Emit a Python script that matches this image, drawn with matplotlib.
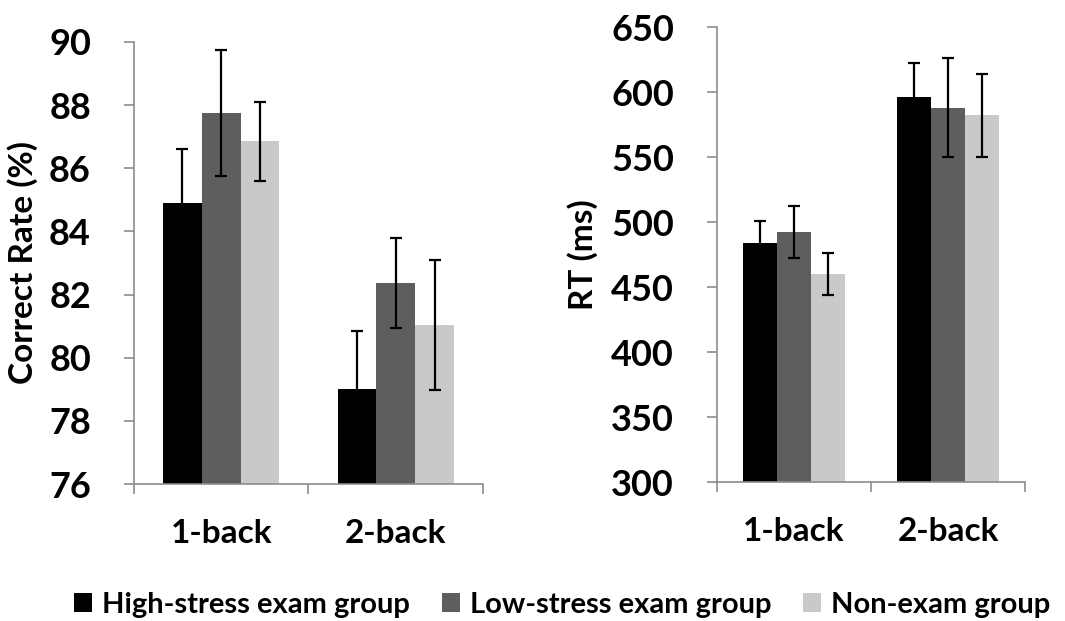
import numpy as np
import matplotlib.pyplot as plt
from matplotlib.ticker import FixedLocator

plt.rcParams['font.family'] = ['Lato', 'DejaVu Sans']
plt.rcParams['font.weight'] = 'bold'

tasks = ["1-back", "2-back"]
groups = ["High-stress exam group", "Low-stress exam group", "Non-exam group"]
colors = ["#000000", "#5e5e5e", "#c9c9c9"]

# correct rate (%)
acc_high = [84.9, 79.0]
acc_low = [87.76, 82.36]
acc_non = [86.86, 81.03]
acc_high_err = [1.72, 1.86]
acc_low_err = [2.0, 1.42]
acc_non_err = [1.25, 2.05]

# reaction time (ms)
rt_high = [484, 596]
rt_low = [492, 588]
rt_non = [460, 582]
rt_high_err = [16.5, 26]
rt_low_err = [20, 38]
rt_non_err = [16, 32]

axis_grey = "#8c8c8c"


def bar_panel(ax, values, errors, ylim, ystep, ylabel):
    x = np.arange(len(tasks))
    w = 1 / 4.5
    for i, (vals, errs) in enumerate(zip(values, errors)):
        ax.bar(x + (i - 1) * w, vals, w, color=colors[i], label=groups[i],
               yerr=errs, capsize=4.5, zorder=2,
               error_kw=dict(ecolor="black", elinewidth=1.6, capthick=1.6))
    ax.set_xlim(-0.5, len(tasks) - 0.5)
    ax.set_ylim(*ylim)
    ax.set_yticks(np.arange(ylim[0], ylim[1] + 0.1, ystep))
    ax.set_xticks(x)
    ax.set_xticklabels(tasks, fontsize=24, fontweight="bold")
    ax.xaxis.set_minor_locator(FixedLocator([-0.5, 0.5, 1.5]))
    ax.tick_params(axis="x", which="major", length=0, pad=25)
    ax.tick_params(axis="x", which="minor", length=7, width=1.2, color=axis_grey)
    ax.tick_params(axis="y", length=7, width=1.2, color=axis_grey, pad=24,
                   labelsize=26)
    for lbl in ax.get_yticklabels():
        lbl.set_fontweight("bold")
    ax.set_ylabel(ylabel, fontsize=24, fontweight="bold")
    for s in ["top", "right"]:
        ax.spines[s].set_visible(False)
    for s in ["left", "bottom"]:
        ax.spines[s].set_color(axis_grey)
        ax.spines[s].set_linewidth(1.2)


fig = plt.figure(figsize=(10.65, 6.21), dpi=100)
ax1 = fig.add_axes([0.1258, 0.2206, 0.3277, 0.7118])
ax2 = fig.add_axes([0.6732, 0.2238, 0.2892, 0.7327])

bar_panel(ax1, [acc_high, acc_low, acc_non], [acc_high_err, acc_low_err, acc_non_err],
          (76, 90), 2, "Correct Rate (%)")
bar_panel(ax2, [rt_high, rt_low, rt_non], [rt_high_err, rt_low_err, rt_non_err],
          (300, 650), 50, "RT (ms)")
ax1.yaxis.set_label_coords(-0.275, 0.5)
ax2.yaxis.set_label_coords(-0.386, 0.5)

handles, labels = ax1.get_legend_handles_labels()
fig.legend(handles, labels, loc="center", bbox_to_anchor=(0.528, 0.026), ncol=3,
           frameon=False, handlelength=0.6, handleheight=0.6,
           handletextpad=0.35, columnspacing=1.1, borderaxespad=0,
           prop=dict(weight="bold", size=21))

fig.savefig("out.png", dpi=100)
